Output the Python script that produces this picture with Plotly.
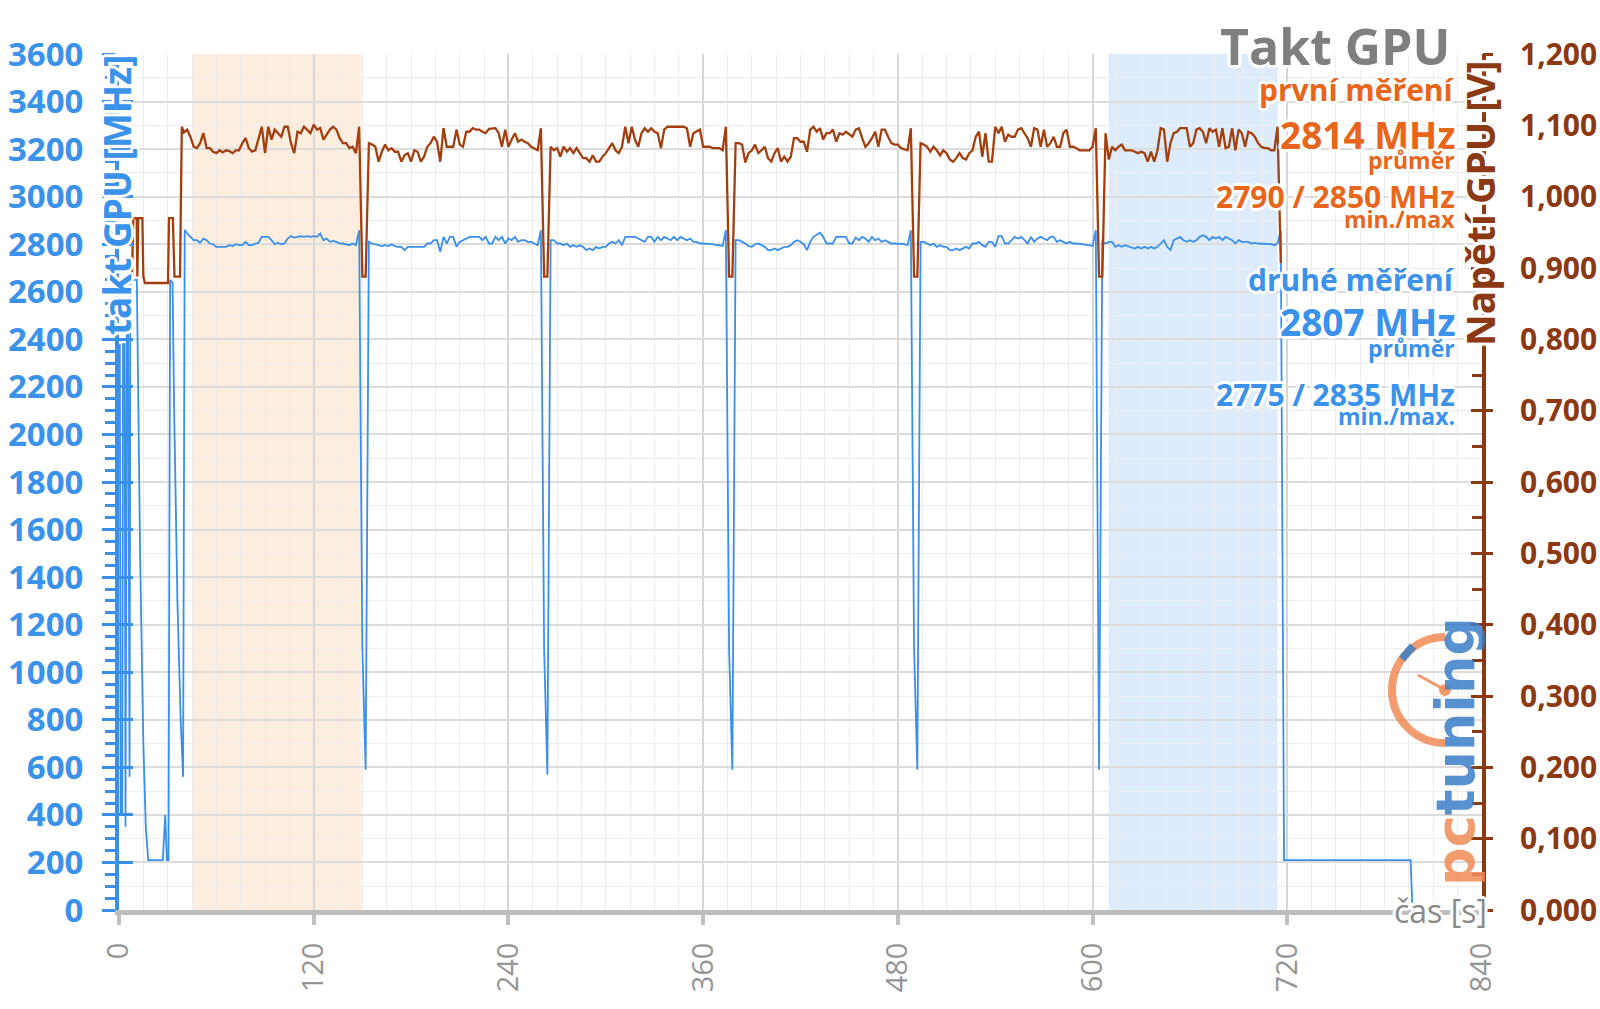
import plotly.graph_objects as go

# ---- data ---------------------------------------------------------------
# GPU clock [MHz] - start-up part (irregular samples)
clk_early_t = [0.5, 1, 2, 2.5, 3.5, 4, 5, 5.5, 6.5, 7, 8, 9, 10, 11, 13, 15, 16.5, 18,
               27, 28.5, 29.5, 30.5, 31.5, 33, 34, 36, 38, 39.5, 40.5]
clk_early = [2380, 400, 400, 2380, 2380, 350, 2650, 2650, 560, 2650, 2650, 2650, 2650,
             2650, 1500, 700, 350, 210, 210, 400, 210, 210, 2650, 2640, 2100, 1300, 800,
             560, 2860]

# GPU voltage [mV] - start-up part
volt_early_t = [8, 8.8, 10.9, 11.3, 11.9, 14.4, 15, 16, 30.2, 30.8, 33.2, 34.2, 37.6, 38.7, 40]
volt_early = [888, 970, 970, 888, 970, 970, 888, 879, 879, 970, 970, 888, 888, 1098, 1090]

# main run, logged every 2 s
t_main = list(range(42, 716, 2))
clk_main = [
    2845, 2831, 2817, 2817, 2806, 2824, 2817, 2803, 2800, 2789,
    2789, 2789, 2789, 2796, 2792, 2800, 2796, 2796, 2810, 2796,
    2796, 2803, 2806, 2831, 2831, 2831, 2817, 2800, 2806, 2800,
    2803, 2824, 2834, 2828, 2831, 2834, 2831, 2834, 2831, 2834,
    2831, 2845, 2817, 2824, 2810, 2814, 2810, 2803, 2803, 2800,
    2796, 2803, 2796,
    2859, 1100, 590,
    2810, 2803, 2800, 2796, 2792, 2796, 2792, 2800, 2792, 2789,
    2789, 2775, 2789, 2789, 2789, 2789, 2789, 2789, 2803, 2803,
    2817, 2817, 2768, 2831, 2803, 2831, 2831, 2789, 2810, 2817,
    2824, 2831, 2831, 2831, 2831, 2817, 2831, 2803, 2803, 2831,
    2817, 2831, 2803, 2824, 2817, 2831, 2810, 2817, 2817, 2810,
    2810, 2803, 2796,
    2859, 1100, 570,
    2817, 2817, 2803, 2803, 2796, 2803, 2789, 2796, 2789, 2796,
    2789, 2775, 2782, 2775, 2789, 2782, 2789, 2789, 2803, 2810,
    2803, 2817, 2796, 2831, 2831, 2831, 2831, 2824, 2817, 2810,
    2831, 2831, 2810, 2831, 2817, 2831, 2824, 2817, 2831, 2817,
    2831, 2824, 2817, 2824, 2810, 2810, 2803, 2803, 2803, 2803,
    2800, 2796, 2796, 2792,
    2859, 1100, 590,
    2817, 2817, 2810, 2803, 2792, 2789, 2800, 2803, 2796, 2789,
    2775, 2775, 2782, 2775, 2782, 2789, 2789, 2796, 2810, 2817,
    2810, 2800, 2775, 2810, 2831, 2838, 2848, 2831, 2803, 2803,
    2803, 2831, 2831, 2831, 2831, 2803, 2803, 2828, 2817, 2831,
    2824, 2810, 2831, 2817, 2824, 2810, 2817, 2810, 2803, 2803,
    2803, 2803, 2800, 2796,
    2859, 1100, 590,
    2810, 2810, 2803, 2796, 2803, 2789, 2796, 2789, 2789, 2775,
    2775, 2782, 2775, 2782, 2789, 2782, 2803, 2803, 2810, 2796,
    2789, 2810, 2810, 2789, 2834, 2834, 2803, 2803, 2817, 2831,
    2824, 2831, 2817, 2803, 2831, 2810, 2824, 2831, 2824, 2817,
    2831, 2831, 2810, 2817, 2810, 2803, 2810, 2803, 2803, 2803,
    2800, 2796, 2796, 2792,
    2859, 590,
    2810, 2803, 2810, 2810, 2789, 2796, 2789, 2796, 2792, 2789,
    2782, 2789, 2782, 2789, 2782, 2789, 2782, 2789, 2803, 2817,
    2789, 2775, 2817, 2824, 2831, 2817, 2810, 2817, 2810, 2817,
    2831, 2838, 2831, 2817, 2831, 2824, 2831, 2817, 2831, 2824,
    2817, 2803, 2817, 2810, 2810, 2810, 2803, 2806, 2803, 2803,
    2803, 2800, 2800, 2796, 2803,
]
volt_main = [
    1094, 1084, 1070, 1068, 1075, 1089, 1068, 1068, 1063, 1061,
    1065, 1062, 1065, 1064, 1061, 1065, 1065, 1075, 1082, 1068,
    1063, 1065, 1080, 1098, 1061, 1098, 1080, 1094, 1089, 1084,
    1098, 1098, 1075, 1061, 1091, 1089, 1098, 1094, 1089, 1101,
    1094, 1096, 1080, 1087, 1094, 1098, 1094, 1082, 1075, 1075,
    1068, 1070, 1061,
    1098, 888, 888,
    1075, 1073, 1070, 1049, 1063, 1073, 1065, 1068, 1063, 1063,
    1049, 1058, 1061, 1049, 1065, 1063, 1049, 1056, 1070, 1075,
    1084, 1077, 1049, 1096, 1070, 1070, 1070, 1094, 1073, 1070,
    1091, 1091, 1096, 1094, 1094, 1091, 1089, 1095, 1096, 1096,
    1089, 1070, 1094, 1070, 1080, 1089, 1077, 1080, 1077, 1075,
    1070, 1068, 1065,
    1096, 888, 888,
    1070, 1065, 1068, 1056, 1070, 1063, 1068, 1061, 1068, 1061,
    1054, 1054, 1049, 1058, 1049, 1049, 1056, 1061, 1068, 1075,
    1065, 1061, 1070, 1098, 1075, 1098, 1080, 1070, 1089, 1096,
    1091, 1096, 1091, 1089, 1068, 1094, 1098, 1098, 1098, 1098,
    1098, 1098, 1096, 1070, 1089, 1091, 1094, 1070, 1070, 1070,
    1068, 1068, 1068, 1065,
    1098, 888, 888,
    1075, 1075, 1073, 1048, 1061, 1065, 1073, 1061, 1065, 1070,
    1054, 1049, 1061, 1068, 1049, 1056, 1049, 1056, 1082, 1082,
    1077, 1077, 1063, 1094, 1098, 1091, 1096, 1080, 1089, 1089,
    1094, 1077, 1089, 1087, 1091, 1087, 1084, 1094, 1096, 1082,
    1070, 1075, 1082, 1091, 1070, 1094, 1094, 1084, 1075, 1073,
    1073, 1068, 1066, 1065,
    1096, 888, 888,
    1075, 1073, 1070, 1063, 1070, 1065, 1058, 1065, 1061, 1052,
    1049, 1054, 1061, 1054, 1052, 1061, 1065, 1084, 1091, 1056,
    1089, 1049, 1049, 1098, 1089, 1098, 1077, 1087, 1084, 1084,
    1094, 1096, 1089, 1082, 1070, 1096, 1094, 1070, 1094, 1070,
    1075, 1084, 1070, 1070, 1089, 1094, 1070, 1070, 1068, 1065,
    1065, 1065, 1065, 1070,
    1096, 888,
    888, 1089, 1052, 1070, 1065, 1070, 1073, 1065, 1065, 1065,
    1063, 1061, 1063, 1061, 1049, 1063, 1049, 1065, 1096, 1094,
    1049, 1075, 1089, 1091, 1096, 1096, 1096, 1070, 1075, 1094,
    1096, 1091, 1075, 1096, 1091, 1094, 1070, 1096, 1068, 1070,
    1096, 1065, 1094, 1089, 1070, 1091, 1089, 1084, 1075, 1070,
    1068, 1068, 1065, 1065, 1098,
]

# idle tail after the test
clk_tail_t = [716, 718, 796, 797]
clk_tail = [2859, 210, 210, 30]
volt_tail_t = [716]
volt_tail = [907]

# highlighted windows [s]
zone_first = (45, 149)
zone_second = (610, 714)

x_ticks = [0, 120, 240, 360, 480, 600, 720, 840]

t_clk = clk_early_t + t_main + clk_tail_t
clk = clk_early + clk_main + clk_tail
t_volt = volt_early_t + t_main + volt_tail_t
volt = [v / 1000 for v in volt_early + volt_main + volt_tail]

# ---- style --------------------------------------------------------------
FONT = "Open Sans"
BLUE = "#3a8fe8"
BLUE_TXT = "#3a92ea"
BROWN = "#8c3812"
VOLT_LINE = "#a33f0e"
ORANGE = "#e8661c"
GRAY = "#8a8a8a"
GLOW = ("-2px -2px 0 #fff, 2px -2px 0 #fff, -2px 2px 0 #fff, 2px 2px 0 #fff, "
        "0 -3px 0 #fff, 0 3px 0 #fff, -3px 0 0 #fff, 3px 0 0 #fff, 0 0 5px #fff")

L, R, T, B = 119, 1482, 54, 910  # plot area in page pixels


def px(x):
    return (x - L) / (R - L)


def py(y):
    return (B - y) / (B - T)


fig = go.Figure()
fig.add_trace(go.Scatter(x=t_clk, y=clk, mode="lines", yaxis="y",
                         line=dict(color=BLUE, width=1.8), hoverinfo="skip"))
fig.add_trace(go.Scatter(x=t_volt, y=volt, mode="lines", yaxis="y2",
                         line=dict(color=VOLT_LINE, width=2.3), hoverinfo="skip"))
# empty traces so the helper tick axes get drawn
fig.add_trace(go.Scatter(x=[None], y=[None], yaxis="y3", hoverinfo="skip"))
fig.add_trace(go.Scatter(x=[None], y=[None], yaxis="y4", hoverinfo="skip"))

fig.update_layout(
    template="none",
    width=1600, height=1009,
    margin=dict(l=L, r=1600 - R, t=T, b=1009 - B, pad=0),
    paper_bgcolor="white", plot_bgcolor="white",
    showlegend=False,
    separators=", ",
    font=dict(family=FONT),
    xaxis=dict(
        range=[0, 840], tickvals=x_ticks, tickangle=-90,
        tickfont=dict(size=29, color="#959595", family=FONT),
        ticks="outside", ticklen=10, tickwidth=4, tickcolor="#c0c0c0",
        showline=True, linecolor="#bdbdbd", linewidth=5,
        showgrid=True, gridcolor="#d6d6d6", gridwidth=2,
        minor=dict(dtick=15, tick0=0, showgrid=True, gridcolor="#ededed", gridwidth=1),
        zeroline=False, automargin=False, ticklabelstandoff=6,
    ),
    yaxis=dict(
        range=[0, 3600], dtick=200, tick0=0,
        tickfont=dict(size=33, color=BLUE_TXT, family=FONT, weight="bold"),
        ticks="outside", ticklen=13, tickwidth=3, tickcolor=BLUE,
        showline=True, linecolor=BLUE, linewidth=4,
        showgrid=True, gridcolor="#dcdcdc", gridwidth=2,
        minor=dict(dtick=50, ticks="outside", ticklen=10, tickwidth=3,
                   tickcolor=BLUE, showgrid=False),
        zeroline=False, automargin=False, ticklabelstandoff=12,
    ),
    yaxis2=dict(
        range=[0, 1.2], dtick=0.1, tick0=0, tickformat=".3f",
        overlaying="y", side="right",
        tickfont=dict(size=30, color=BROWN, family=FONT, weight="bold"),
        ticks="inside", ticklen=11, tickwidth=3, tickcolor=BROWN,
        showline=True, linecolor=BROWN, linewidth=4,
        minor=dict(dtick=0.05, ticks="inside", ticklen=10, tickwidth=3, tickcolor=BROWN),
        showgrid=False, zeroline=False, automargin=False, ticklabelstandoff=28,
    ),
    yaxis3=dict(
        range=[0, 3600], dtick=200, tick0=0, overlaying="y", side="left",
        showticklabels=False, ticks="inside", ticklen=14, tickwidth=3, tickcolor=BLUE,
        showline=False, showgrid=False, zeroline=False, automargin=False,
        minor=dict(dtick=100, showgrid=True, gridcolor="#eeeeee", gridwidth=1),
    ),
    yaxis4=dict(
        range=[0, 1.2], dtick=0.1, tick0=0, overlaying="y", side="right",
        showticklabels=False, ticks="outside", ticklen=10, tickwidth=3, tickcolor=BROWN,
        showline=False, showgrid=False, zeroline=False, automargin=False,
    ),
)

# highlighted measurement windows
fig.add_shape(type="rect", xref="x", yref="paper", x0=zone_first[0], x1=zone_first[1],
              y0=0, y1=1, fillcolor="rgba(248,190,140,0.28)", line_width=0, layer="below")
fig.add_shape(type="rect", xref="x", yref="paper", x0=zone_second[0], x1=zone_second[1],
              y0=0, y1=1, fillcolor="rgba(150,198,245,0.33)", line_width=0, layer="below")

# texts on the right side
labels = [
    ("Takt GPU", 46, 50, "#7f7f7f", 1452),
    ("první měření", 89, 30, ORANGE, 1457),
    ("2814 MHz", 135, 37, ORANGE, 1457),
    ("průměr", 160, 23, ORANGE, 1457),
    ("2790 / 2850 MHz", 197, 30, ORANGE, 1457),
    ("min./max", 219, 23, ORANGE, 1457),
    ("druhé měření", 279, 30, BLUE_TXT, 1457),
    ("2807 MHz", 321, 37, BLUE_TXT, 1457),
    ("průměr", 348, 23, BLUE_TXT, 1457),
    ("2775 / 2835 MHz", 394, 30, BLUE_TXT, 1457),
    ("min./max.", 416, 23, BLUE_TXT, 1457),
]
for text, yc, size, color, xr in labels:
    fig.add_annotation(text=text, xref="paper", yref="paper", x=px(xr), y=py(yc),
                       xanchor="right", yanchor="middle", showarrow=False,
                       font=dict(family=FONT, size=size, color=color, weight="bold",
                                 shadow=GLOW))

# axis titles
fig.add_annotation(text="takt GPU [MHz]", xref="paper", yref="paper", x=px(116), y=py(195),
                   textangle=-90, showarrow=False, xanchor="center", yanchor="middle",
                   font=dict(family=FONT, size=37, color=BLUE_TXT, weight="bold", shadow=GLOW))
fig.add_annotation(text="Napětí GPU [V]", xref="paper", yref="paper", x=px(1479), y=py(204),
                   textangle=-90, showarrow=False, xanchor="center", yanchor="middle",
                   font=dict(family=FONT, size=39, color=BROWN, weight="bold", shadow=GLOW))
fig.add_annotation(text="čas [s]", xref="paper", yref="paper", x=px(1489), y=py(910),
                   showarrow=False, xanchor="right", yanchor="middle",
                   font=dict(family=FONT, size=32, color=GRAY, shadow=GLOW))

# pctuning logo
LOGO_O = "#f08b56"
LOGO_B = "#3b7ec8"
fig.add_annotation(
    text=f"<span style='color:{LOGO_O}'>pc</span><span style='color:{LOGO_B}'>tuning</span>",
    xref="paper", yref="paper", x=px(1455), y=py(752), textangle=-90, showarrow=False,
    xanchor="center", yanchor="middle", opacity=0.85,
    font=dict(family="DejaVu Sans", size=54, weight="bold"))

cx, cy, r = 1445, 690, 53
k = 0.5523 * r
arc = (f"M {px(cx)},{py(cy - r)} "
       f"C {px(cx - k)},{py(cy - r)} {px(cx - r)},{py(cy - k)} {px(cx - r)},{py(cy)} "
       f"C {px(cx - r)},{py(cy + k)} {px(cx - k)},{py(cy + r)} {px(cx)},{py(cy + r)}")
fig.add_shape(type="path", path=arc, xref="paper", yref="paper",
              line=dict(color=LOGO_O, width=8), opacity=0.85)
fig.add_shape(type="line", xref="paper", yref="paper", x0=px(1402), y0=py(659),
              x1=px(1413), y1=py(646), line=dict(color=LOGO_B, width=8), opacity=0.85)
fig.add_shape(type="line", xref="paper", yref="paper", x0=px(cx), y0=py(cy),
              x1=px(1418), y1=py(675), line=dict(color=LOGO_O, width=3), opacity=0.85)
fig.add_shape(type="circle", xref="paper", yref="paper", x0=px(cx - 6), y0=py(cy - 6),
              x1=px(cx + 6), y1=py(cy + 6), fillcolor=LOGO_O, line_width=0, opacity=0.85)

fig.write_html("out.html", config={"displayModeBar": False},
               post_script="document.body.style.margin='0';")
